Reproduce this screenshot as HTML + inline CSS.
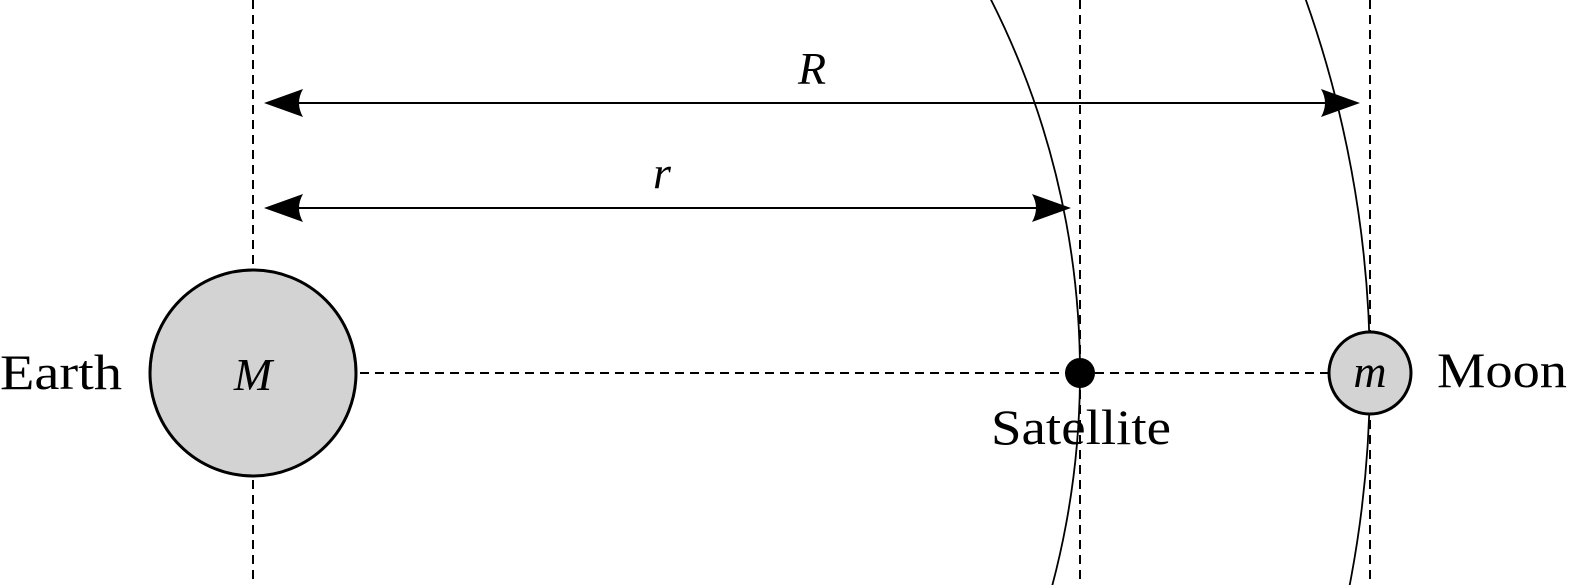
<!DOCTYPE html>
<html><head><style>html,body{margin:0;padding:0;background:#fff;overflow:hidden;}svg{display:block;}</style></head>
<body>
<svg width="1579" height="585" viewBox="0 0 1579 585" xmlns="http://www.w3.org/2000/svg">
<rect width="1579" height="585" fill="#fff"/>
<g stroke="#000" stroke-width="2" stroke-dasharray="9,6" fill="none">
<line x1="253" y1="0" x2="253" y2="266"/>
<line x1="253" y1="480" x2="253" y2="585"/>
<line x1="1080" y1="0" x2="1080" y2="585"/>
<line x1="1370" y1="0" x2="1370" y2="585"/>
<line x1="360" y1="373" x2="1330" y2="373"/>
</g>
<g stroke="#000" stroke-width="1.8" fill="none">
<circle cx="253" cy="373" r="827"/>
<circle cx="253" cy="373" r="1117"/>
</g>
<g stroke="#000" stroke-width="2">
<line x1="285" y1="103" x2="1340" y2="103"/>
<line x1="285" y1="208" x2="1050" y2="208"/>
</g>
<g fill="#000">
<path d="M264,103 L303,89 Q295,103 303,117 Z"/>
<path d="M1360,103 L1321,89 Q1329,103 1321,117 Z"/>
<path d="M264,208 L303,194 Q295,208 303,222 Z"/>
<path d="M1071,208 L1032,194 Q1040,208 1032,222 Z"/>
</g>
<circle cx="253" cy="373" r="103" fill="#d3d3d3" stroke="#000" stroke-width="3"/>
<circle cx="1370" cy="373" r="41" fill="#d3d3d3" stroke="#000" stroke-width="3"/>
<circle cx="1080" cy="373" r="15" fill="#000"/>
<g font-family="Liberation Serif, serif" fill="#000">
<text x="253" y="390" text-anchor="middle" font-style="italic" font-size="46">M</text>
<text x="1370" y="387" text-anchor="middle" font-style="italic" font-size="46">m</text>
<text x="812" y="84" text-anchor="middle" font-style="italic" font-size="46">R</text>
<text x="662" y="188" text-anchor="middle" font-style="italic" font-size="46">r</text>
<text x="0" y="389" font-size="50" textLength="122" lengthAdjust="spacingAndGlyphs">Earth</text>
<text x="1437" y="387" font-size="50" textLength="130" lengthAdjust="spacingAndGlyphs">Moon</text>
<text x="991" y="444" font-size="50" textLength="180" lengthAdjust="spacingAndGlyphs">Satellite</text>
</g>
</svg>
</body></html>
